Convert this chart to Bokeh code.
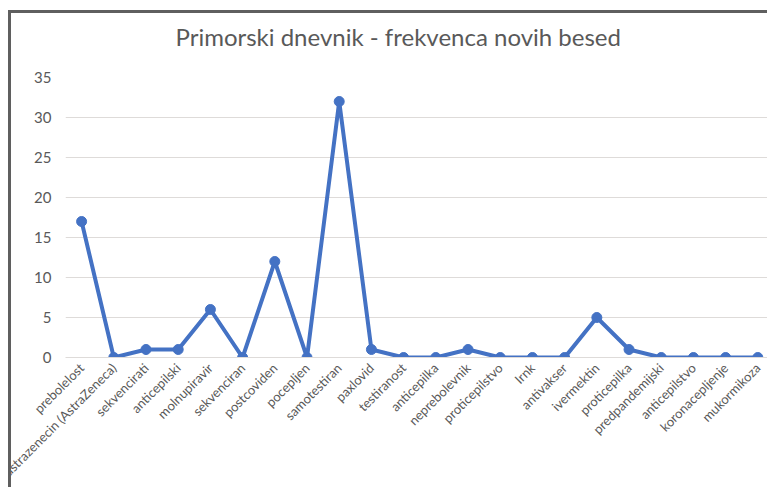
import math
from bokeh.plotting import figure
from bokeh.layouts import column
from bokeh.models import Range1d, FixedTicker, Title
from bokeh.embed import file_html
from bokeh.resources import INLINE

words = ["prebolelost", "astrazenecin (AstraZeneca)", "sekvencirati", "anticepilski",
         "molnupiravir", "sekvenciran", "postcoviden", "pocepljen", "samotestiran",
         "paxlovid", "testiranost", "anticepilka", "neprebolevnik", "proticepilstvo",
         "Irnk", "antivakser", "ivermektin", "proticepilka", "predpandemijski",
         "anticepilstvo", "koronacepljenje", "mukormikoza"]
freq = [17, 0, 1, 1, 6, 0, 12, 0, 32, 1, 0, 0, 1, 0, 0, 0, 5, 1, 0, 0, 0, 0]
y_ticks = [0, 5, 10, 15, 20, 25, 30, 35]

xs = list(range(len(words)))

p = figure(width=756, height=474, output_backend="svg", toolbar_location=None,
           x_range=Range1d(-0.5, 21.30), y_range=Range1d(0, 35),
           min_border_left=54, min_border_right=0, min_border_top=64, min_border_bottom=130)
# spacer between the title and the plot area
p.add_layout(Title(text=" ", text_font_size="10px", standoff=12), "above")
t = Title(text="Primorski dnevnik - frekvenca novih besed", align="left",
          text_font="Lato", text_font_size="24px", text_font_style="normal",
          text_color="#595959", standoff=4, offset=110)
p.add_layout(t, "above")

p.line(xs, freq, line_color="#4472C4", line_width=4)
p.scatter(xs, freq, size=10, fill_color="#4472C4", line_color="#4472C4")

p.xaxis.ticker = FixedTicker(ticks=xs)
p.xaxis.major_label_overrides = {i: w for i, w in enumerate(words)}
p.xaxis.major_label_orientation = math.pi / 4
p.xaxis.axis_line_color = "#DEDBD9"
p.xaxis.major_tick_line_color = None
p.xaxis.minor_tick_line_color = None
p.xaxis.major_tick_out = 0
p.xaxis.major_tick_in = 0
p.xaxis.major_label_text_font = "Lato"
p.xaxis.major_label_text_font_size = "13px"
p.xaxis.major_label_text_color = "#595959"
p.xaxis.major_label_standoff = 8

p.yaxis.ticker = FixedTicker(ticks=y_ticks)
p.yaxis.axis_line_color = None
p.yaxis.major_tick_line_color = None
p.yaxis.minor_tick_line_color = None
p.yaxis.major_tick_out = 0
p.yaxis.major_tick_in = 0
p.yaxis.major_label_text_font = "Lato"
p.yaxis.major_label_text_font_size = "15px"
p.yaxis.major_label_text_color = "#595959"
p.yaxis.major_label_standoff = 14

p.xgrid.grid_line_color = None
p.ygrid.ticker = FixedTicker(ticks=y_ticks)
p.ygrid.grid_line_color = "#DEDBD9"
p.ygrid.grid_line_width = 1
p.outline_line_color = None
p.background_fill_color = "white"
p.border_fill_color = "white"

page = column(p, styles={"margin-left": "11px", "margin-top": "13px",
                         "box-shadow": "-3px 0 0 0 #5f5f5f, -3px -3px 0 0 #5f5f5f, 0 -3px 0 0 #5f5f5f"})

open("out.html", "w").write(file_html(page, INLINE))
